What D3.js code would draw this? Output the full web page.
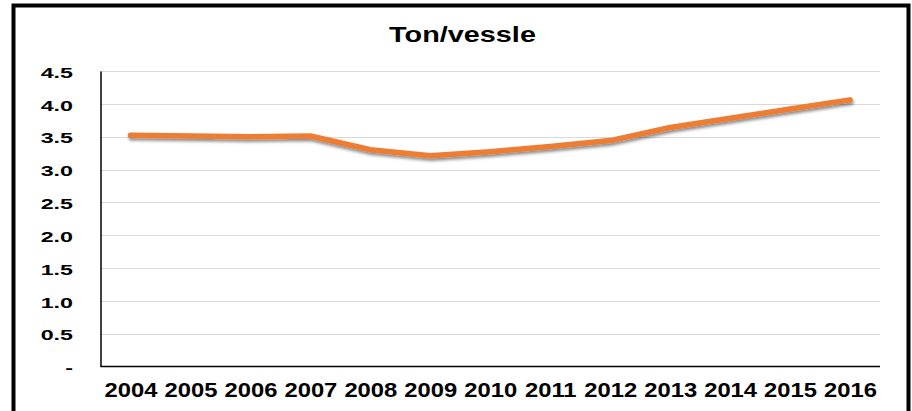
<!DOCTYPE html>
<html>
<head>
<meta charset="utf-8">
<script src="https://cdn.jsdelivr.net/npm/d3@7"></script>
<style>
  html, body { margin: 0; padding: 0; background: #fff; }
  svg { display: block; }
  text { font-family: "Liberation Sans", Arial, sans-serif; font-weight: bold; fill: #000; }
</style>
</head>
<body>
<svg id="chart" width="912" height="411"></svg>
<script>
// Average catch per vessel (tons), 2004-2016
const years = ["2004","2005","2006","2007","2008","2009","2010","2011","2012","2013","2014","2015","2016"];
const tonPerVessel = [3.52, 3.51, 3.50, 3.51, 3.30, 3.21, 3.27, 3.35, 3.44, 3.64, 3.78, 3.92, 4.06];
const yTicks = [0, 0.5, 1.0, 1.5, 2.0, 2.5, 3.0, 3.5, 4.0, 4.5];
const chartTitle = "Ton/vessle";

const svg = d3.select("#chart");
const plot = { left: 100.5, right: 880, top: 71, bottom: 366.5 };

// widen glyphs horizontally by a factor (keeps anchor position)
function widen(sel, factor) {
  sel.each(function () {
    const len = this.getComputedTextLength();
    d3.select(this)
      .attr("textLength", len * factor)
      .attr("lengthAdjust", "spacingAndGlyphs");
  });
}

// outer frame
svg.append("rect")
  .attr("x", 13.5).attr("y", 5.5)
  .attr("width", 895).attr("height", 430)
  .attr("fill", "#fff").attr("stroke", "#000").attr("stroke-width", 4);

const x = d3.scalePoint().domain(years).range([plot.left, plot.right]).padding(0.5);
const y = d3.scaleLinear().domain([0, 4.5]).range([plot.bottom, plot.top]);

// horizontal gridlines
svg.append("g")
  .selectAll("line")
  .data(yTicks.filter(d => d > 0))
  .join("line")
  .attr("x1", plot.left).attr("x2", plot.right)
  .attr("y1", d => Math.round(y(d)) + 0.5).attr("y2", d => Math.round(y(d)) + 0.5)
  .attr("stroke", "#d9d9d9").attr("stroke-width", 1);

// y axis
const yAxis = d3.axisLeft(y)
  .tickValues(yTicks)
  .tickSize(0)
  .tickPadding(27.5)
  .tickFormat(d => d === 0 ? "-" : d3.format(".1f")(d));
const gy = svg.append("g").attr("transform", `translate(${plot.left},0)`).call(yAxis);
gy.select(".domain").attr("stroke", "#000").attr("stroke-width", 1.5);
gy.selectAll("text").style("font-size", "15px").attr("dy", "0.42em");
widen(gy.selectAll("text"), 1.55);

// x axis
const xAxis = d3.axisBottom(x).tickSize(0).tickPadding(16.4);
const gx = svg.append("g").attr("transform", `translate(0,${plot.bottom})`).call(xAxis);
gx.select(".domain").attr("stroke", "#000").attr("stroke-width", 1.5)
  .attr("d", `M${plot.left},0H${plot.right}`);
gx.selectAll("text").style("font-size", "19.5px");
widen(gx.selectAll("text"), 1.22);

// title
const title = svg.append("text")
  .attr("x", 462.5).attr("y", 42.3)
  .attr("text-anchor", "middle")
  .style("font-size", "22px")
  .text(chartTitle);
widen(title, 1.31);

// line with soft drop shadow
const defs = svg.append("defs");
const f = defs.append("filter").attr("id", "shadow")
  .attr("x", "-5%").attr("y", "-50%").attr("width", "110%").attr("height", "200%");
f.append("feDropShadow").attr("dx", 1).attr("dy", 2.5).attr("stdDeviation", 1.5)
  .attr("flood-color", "#000").attr("flood-opacity", 0.45);

const line = d3.line().x((d, i) => x(years[i])).y(d => y(d));
svg.append("path")
  .datum(tonPerVessel)
  .attr("d", line)
  .attr("fill", "none")
  .attr("stroke", "#ED7D31")
  .attr("stroke-width", 5.5)
  .attr("stroke-linecap", "round")
  .attr("stroke-linejoin", "round")
  .attr("filter", "url(#shadow)");
</script>
</body>
</html>
